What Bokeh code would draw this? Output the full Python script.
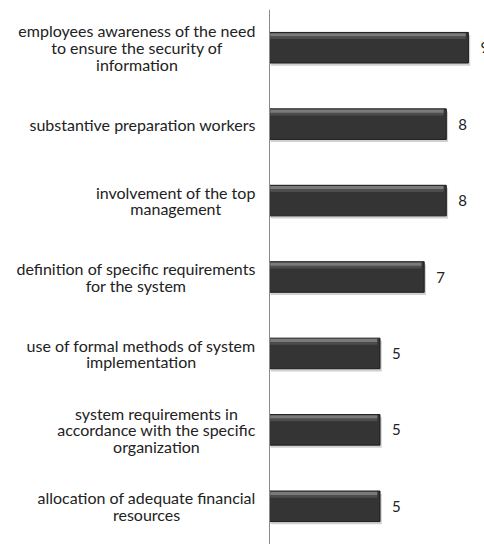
import glob
from bokeh.plotting import figure
from bokeh.models import Range1d, FactorRange, ColumnDataSource, Span
from bokeh.transform import dodge
from bokeh.embed import file_html
from bokeh.resources import INLINE
from bokeh.core.properties import value

categories = [
    "employees awareness of the need\nto ensure the security of\ninformation",
    "substantive preparation workers",
    "involvement of the top\nmanagement",
    "definition of specific requirements\nfor the system",
    "use of formal methods of system\nimplementation",
    "system requirements in\naccordance with the specific\norganization",
    "allocation of adequate financial\nresources",
]
values = [9, 8, 8, 7, 5, 5, 5]
value_labels = [str(v) for v in values]

W, H = 484, 544
AXIS_PX = 269          # pixel position of the zero line
PX_PER_UNIT = 22.1
LABEL_RIGHT_PX = 255
FONT = "Lato"
FONT_PX = 16

x_start = -AXIS_PX / PX_PER_UNIT
x_end = (W - AXIS_PX) / PX_PER_UNIT

# measure widths of label lines
def make_measure():
    try:
        from PIL import ImageFont
        paths = [p for p in glob.glob("/usr/share/fonts/**/*.ttf", recursive=True)
                 if p.endswith("Lato-Regular.ttf")]
        if paths:
            try:
                f = ImageFont.truetype(paths[0], FONT_PX)
                return lambda s: f.getlength(s)
            except Exception:
                f = ImageFont.truetype(paths[0], int(round(FONT_PX * 10)))
                return lambda s: f.getlength(s) / 10.0
    except Exception:
        pass
    return lambda s: len(s) * FONT_PX * 0.48

measure = make_measure()
label_x = []
for c in categories:
    wmax = max(measure(line) for line in c.split("\n"))
    center_px = LABEL_RIGHT_PX - wmax / 2.0
    label_x.append((center_px - AXIS_PX) / PX_PER_UNIT)

src = ColumnDataSource(dict(
    cat=categories,
    val=values,
    lab=value_labels,
    lx=label_x,
    shadow=[v + 0.08 for v in values],
    hl=[v - 0.12 for v in values],
))

p = figure(width=W, height=H, output_backend="svg", toolbar_location=None,
           y_range=FactorRange(*categories[::-1], range_padding=0),
           x_range=Range1d(x_start, x_end), x_axis_location=None, y_axis_location=None,
           min_border_left=0, min_border_right=0, min_border_top=9, min_border_bottom=0)
p.outline_line_color = None
p.grid.visible = False
p.background_fill_color = "white"
p.border_fill_color = "white"

p.add_layout(Span(location=0, dimension="height", line_color="#8a8a8a", line_width=1))

# shadow
p.hbar(y=dodge("cat", -0.035, range=p.y_range), left=0.05, right="shadow", height=0.4,
       source=src, fill_color="#c4c4c4", line_color=None, fill_alpha=0.8)
# main bar
p.hbar(y="cat", left=0, right="val", height=0.4, source=src,
       fill_color="#343434", line_color="#1c1c1c", line_width=1)
# top bevel highlight
p.hbar(y=dodge("cat", 0.168, range=p.y_range), left=0.03, right="hl", height=0.045,
       source=src, fill_color="#7a7a7a", line_color=None)
p.hbar(y=dodge("cat", 0.13, range=p.y_range), left=0.03, right="hl", height=0.035,
       source=src, fill_color="#4c4c4c", line_color=None)

# value labels
p.text(x="val", y="cat", text="lab", source=src, x_offset=12,
       text_align="left", text_baseline="middle", text_font=value(FONT),
       text_font_size="15px", text_color="#222222")

# category labels
p.text(x="lx", y="cat", text="cat", source=src,
       text_align="center", text_baseline="middle", text_font=value(FONT),
       text_font_size=f"{FONT_PX}px", text_line_height=0.885, text_color="#222222")

open("out.html", "w").write(file_html(p, INLINE))
